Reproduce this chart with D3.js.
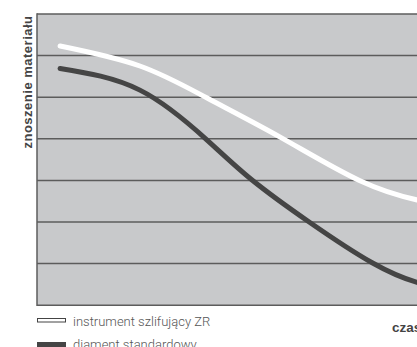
<!DOCTYPE html>
<html><head><meta charset="utf-8">
<script src="https://cdn.jsdelivr.net/npm/d3@7"></script>
<style>html,body{margin:0;padding:0;background:#fff;overflow:hidden}</style>
</head><body>
<svg id="c" width="417" height="347"></svg>
<script>
const gridLevels = [0,1,2,3,4,5,6,7];
const whiteT = [5.5, 24.5, 40.5, 57.9, 76.9, 90.5, 98];
const whiteV = [6.23, 5.75, 4.98, 4.04, 2.99, 2.53, 2.40];
const darkT = [5.5, 24.5, 40.5, 51.2, 64.8, 79.8, 90.5, 98];
const darkV = [5.69, 5.17, 3.97, 3.01, 2.00, 1.02, 0.55, 0.42];
const seriesNames = ["instrument szlifujący ZR", "diament standardowy"];
const yTitle = "znoszenie materiału";
const xTitle = "czas";

const svg = d3.select("#c");
const L = 37, R = 457, T = 14, B = 305.2;
const x = d3.scaleLinear().domain([0,100]).range([L,R]);
const y = d3.scaleLinear().domain([0,7]).range([B,T]);

svg.append("rect").attr("x",L).attr("y",T).attr("width",R-L).attr("height",B-T).attr("fill","#c8c9cb");
svg.selectAll("line.g").data(gridLevels).enter().append("line")
  .attr("x1",L).attr("x2",R).attr("y1",d=>y(d)).attr("y2",d=>y(d))
  .attr("stroke","#5c5c5c").attr("stroke-width",1.5);
svg.append("line").attr("x1",L).attr("x2",L).attr("y1",T-0.75).attr("y2",B+0.75)
  .attr("stroke","#5c5c5c").attr("stroke-width",1.5);

const line = d3.line().x(d=>x(d[0])).y(d=>y(d[1])).curve(d3.curveNatural);
svg.append("path").attr("d",line(whiteT.map((t,i)=>[t,whiteV[i]])))
  .attr("fill","none").attr("stroke","#fff").attr("stroke-width",5).attr("stroke-linecap","round");
svg.append("path").attr("d",line(darkT.map((t,i)=>[t,darkV[i]])))
  .attr("fill","none").attr("stroke","#454545").attr("stroke-width",5).attr("stroke-linecap","round");

svg.append("text").attr("transform","translate(32,82) rotate(-90)").attr("text-anchor","middle")
  .attr("font-family","Liberation Sans, Arial, sans-serif").attr("font-weight","bold").attr("font-size",13)
  .attr("letter-spacing",0.5).attr("fill","#444").text(yTitle);
svg.append("text").attr("x",392).attr("y",332)
  .attr("font-family","Liberation Sans, Arial, sans-serif").attr("font-weight","bold").attr("font-size",13.5)
  .attr("fill","#444").text(xTitle);

const leg = svg.append("g");
leg.append("rect").attr("x",37.5).attr("y",318.5).attr("width",28).attr("height",3.5)
  .attr("fill","#fff").attr("stroke","#444").attr("stroke-width",1);
leg.append("rect").attr("x",37).attr("y",342).attr("width",29).attr("height",5).attr("fill","#454545");
leg.selectAll("text").data(seriesNames).enter().append("text")
  .attr("x",73).attr("y",(d,i)=>325.5+i*23.5)
  .attr("font-family","Roboto, sans-serif").attr("font-weight",300).attr("font-size",13)
  .attr("fill","#555").text(d=>d);
</script>
</body></html>
